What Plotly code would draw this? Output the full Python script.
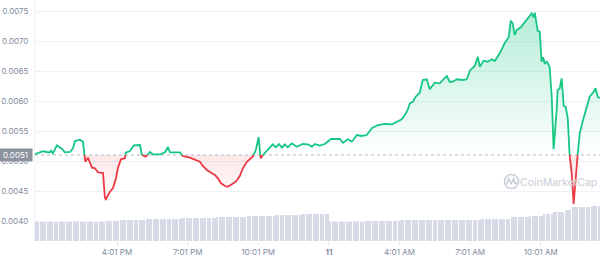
import numpy as np
import pandas as pd
import plotly.graph_objects as go

# ---------------- data ----------------
START = pd.Timestamp("2022-11-10 12:32")
BASE = 0.0051  # opening price (reference line)

# hours since window start
price_hours = [
    0.00, 0.21, 0.34, 0.51, 0.64, 0.68, 0.76, 0.93, 1.06, 1.15, 1.27, 1.49, 1.61, 1.70, 1.91, 2.04,
    2.10, 2.14, 2.25, 2.33, 2.42, 2.55, 2.67, 2.89, 2.97, 3.01, 3.06, 3.18, 3.31, 3.44, 3.52, 3.65,
    3.82, 3.86, 4.03, 4.20, 4.46, 4.54, 4.71, 4.88, 5.01, 5.31, 5.52, 5.65, 5.73, 6.16, 6.28, 6.58,
    6.79, 7.00, 7.13, 7.30, 7.51, 7.64, 7.77, 7.90, 8.07, 8.19, 8.36, 8.53, 8.70, 8.83, 9.00, 9.13,
    9.25, 9.38, 9.50, 9.55, 9.59, 9.68, 9.89, 10.10, 10.23, 10.36, 10.49, 10.61, 10.74, 10.91, 11.12,
    11.25, 11.38, 11.59, 11.76, 11.89, 12.10, 12.31, 12.57, 12.95, 13.08, 13.29, 13.46, 13.67, 13.88,
    14.09, 14.31, 14.56, 14.86, 15.16, 15.41, 15.58, 15.71, 15.83, 15.92, 16.05, 16.17, 16.34, 16.47,
    16.64, 16.77, 16.98, 17.19, 17.49, 17.62, 17.74, 17.92, 18.17, 18.34, 18.47, 18.68, 18.81, 18.89,
    19.06, 19.23, 19.40, 19.53, 19.74, 19.95, 20.12, 20.21, 20.29, 20.38, 20.46, 20.63, 20.80, 21.01,
    21.10, 21.18, 21.23, 21.35, 21.44, 21.52, 21.58, 21.65, 21.74, 21.86, 21.95, 22.03, 22.16, 22.20,
    22.29, 22.37, 22.46, 22.54, 22.63, 22.71, 22.80, 22.88, 22.97, 23.05, 23.14, 23.26, 23.39, 23.56,
    23.73, 23.81, 23.90, 23.99,
]
price_values = [
    0.005112, 0.005145, 0.005162, 0.005150, 0.005145, 0.005172, 0.005128, 0.005262, 0.005228, 0.005200,
    0.005145, 0.005150, 0.005212, 0.005333, 0.005355, 0.005322, 0.005100, 0.004988, 0.005055, 0.004988,
    0.004888, 0.004878, 0.004812, 0.004800, 0.004383, 0.004362, 0.004395, 0.004488, 0.004545, 0.004712,
    0.004878, 0.005028, 0.005045, 0.005138, 0.005167, 0.005262, 0.005267, 0.005100, 0.005072, 0.005150,
    0.005112, 0.005112, 0.005145, 0.005233, 0.005145, 0.005145, 0.005083, 0.005055, 0.005017, 0.004988,
    0.004917, 0.004850, 0.004795, 0.004767, 0.004712, 0.004628, 0.004583, 0.004572, 0.004612, 0.004655,
    0.004750, 0.004878, 0.004988, 0.005028, 0.005072, 0.005183, 0.005395, 0.005155, 0.005045, 0.005100,
    0.005183, 0.005278, 0.005228, 0.005283, 0.005222, 0.005278, 0.005228, 0.005295, 0.005238, 0.005267,
    0.005283, 0.005278, 0.005238, 0.005283, 0.005258, 0.005283, 0.005367, 0.005367, 0.005305, 0.005362,
    0.005322, 0.005433, 0.005417, 0.005433, 0.005545, 0.005600, 0.005617, 0.005612, 0.005655, 0.005695,
    0.005767, 0.005850, 0.005962, 0.005988, 0.006072, 0.006138, 0.006350, 0.006362, 0.006195, 0.006305,
    0.006295, 0.006417, 0.006317, 0.006322, 0.006362, 0.006350, 0.006362, 0.006505, 0.006583, 0.006738,
    0.006572, 0.006672, 0.006655, 0.006695, 0.006667, 0.006795, 0.006962, 0.007062, 0.007338, 0.007295,
    0.007100, 0.007183, 0.007228, 0.007322, 0.007417, 0.007462, 0.007395, 0.007472, 0.007172, 0.007155,
    0.006655, 0.006728, 0.006628, 0.006655, 0.006572, 0.006072, 0.005195, 0.005850, 0.006183, 0.006212,
    0.006378, 0.005917, 0.005905, 0.005712, 0.005100, 0.004795, 0.004283, 0.004683, 0.005100, 0.005462,
    0.005655, 0.005850, 0.006072, 0.006155, 0.006212, 0.006072, 0.006045,
]

# 24h volume bars (6-minute bars), run-length encoded
vol_levels = [187, 203, 213, 220, 233, 243, 255, 265, 273,
              187, 197, 207, 213, 223, 237, 250, 270, 295, 310, 343, 355]
vol_counts = [30, 6, 11, 15, 15, 13, 12, 11, 12,
              15, 15, 17, 17, 13, 8, 6, 4, 5, 3, 8, 4]
VOL_STEP_MIN = 6

tick_times = ["2022-11-10 16:01", "2022-11-10 19:01", "2022-11-10 22:01", "2022-11-11 01:01",
              "2022-11-11 04:01", "2022-11-11 07:01", "2022-11-11 10:01"]
tick_labels = ["4:01 PM", "7:01 PM", "10:01 PM", "<b>11</b>", "4:01 AM", "7:01 AM", "10:01 AM"]
y_ticks = [0.0040, 0.0045, 0.0050, 0.0055, 0.0060, 0.0065, 0.0070, 0.0075]

# ---------------- styling ----------------
GREEN = "#16c784"
RED = "#ea3943"
FONT = "Inter"
TICK_COLOR = "#808a9d"

# split series at the baseline (insert crossing points)
h = np.array(price_hours, dtype=float)
v = np.array(price_values, dtype=float)
hs, vs = [h[0]], [v[0]]
for i in range(1, len(h)):
    a, b = v[i - 1] - BASE, v[i] - BASE
    if a * b < 0:
        f = a / (a - b)
        hs.append(h[i - 1] + f * (h[i] - h[i - 1]))
        vs.append(BASE)
    hs.append(h[i])
    vs.append(v[i])
hs = np.array(hs)
vs = np.array(vs)
xt = START + pd.to_timedelta(hs, unit="h")

green_line = [y if y >= BASE - 1e-12 else None for y in vs]
red_line = [y if y <= BASE + 1e-12 else None for y in vs]

# volume bars
vol = np.repeat(vol_levels, vol_counts)
vol_x = START + pd.to_timedelta((np.arange(len(vol)) + 0.5) * VOL_STEP_MIN, unit="m")

fig = go.Figure()

fig.add_trace(go.Bar(x=vol_x, y=vol, yaxis="y2", marker=dict(color="#d6dbe7", line=dict(width=0)),
                     width=VOL_STEP_MIN * 60000 * 0.6, hoverinfo="skip", showlegend=False))

# green fill
fig.add_trace(go.Scatter(x=xt, y=[BASE] * len(xt), mode="lines", line=dict(width=0),
                         hoverinfo="skip", showlegend=False))
fig.add_trace(go.Scatter(x=xt, y=np.maximum(vs, BASE), mode="lines", line=dict(width=0),
                         fill="tonexty",
                         fillgradient=dict(type="vertical",
                                           colorscale=[[0, "rgba(22,199,132,0.0)"],
                                                       [1, "rgba(22,199,132,0.32)"]]),
                         hoverinfo="skip", showlegend=False))
# red fill
fig.add_trace(go.Scatter(x=xt, y=[BASE] * len(xt), mode="lines", line=dict(width=0),
                         hoverinfo="skip", showlegend=False))
fig.add_trace(go.Scatter(x=xt, y=np.minimum(vs, BASE), mode="lines", line=dict(width=0),
                         fill="tonexty",
                         fillgradient=dict(type="vertical",
                                           colorscale=[[0, "rgba(234,57,67,0.0)"],
                                                       [1, "rgba(234,57,67,0.12)"]]),
                         hoverinfo="skip", showlegend=False))

# dotted baseline
fig.add_trace(go.Scatter(x=[START, START + pd.Timedelta(hours=24)], y=[BASE, BASE], mode="lines",
                         line=dict(color="#b3bac7", width=1, dash="dot"),
                         hoverinfo="skip", showlegend=False))

# price lines
fig.add_trace(go.Scatter(x=xt, y=red_line, mode="lines", line=dict(color=RED, width=1.8),
                         connectgaps=False, hoverinfo="skip", showlegend=False))
fig.add_trace(go.Scatter(x=xt, y=green_line, mode="lines", line=dict(color=GREEN, width=1.8),
                         connectgaps=False, hoverinfo="skip", showlegend=False))

# ---- watermark (pixel -> paper helpers) ----
L, R, T, B = 35, 600, 0, 241


def px(x, y):
    return (x - L) / (R - L), (B - y) / (B - T)


cx, cy, r = 511.5, 181.5, 7
x0, y0 = px(cx - r, cy + r)
x1, y1 = px(cx + r, cy - r)
WM = "#c9ced8"
shapes = [dict(type="circle", xref="paper", yref="paper", x0=x0, y0=y0, x1=x1, y1=y1,
               line=dict(color=WM, width=1.6))]
pts = [(506.5, 184.5), (508.7, 178.8), (511.2, 183.6), (513.6, 178.8), (514.8, 183.8), (517, 182.5)]
path = "M " + " L ".join(f"{px(a, b)[0]:.5f},{px(a, b)[1]:.5f}" for a, b in pts)
shapes.append(dict(type="path", xref="paper", yref="paper", path=path,
                   line=dict(color=WM, width=1.6)))

wx, wy = px(558, 182)
annotations = [
    dict(text="CoinMarketCap", xref="paper", yref="paper", x=wx, y=wy, xanchor="center",
         yanchor="middle", showarrow=False, font=dict(family=FONT, size=10.5, color=WM)),
    dict(text="0.0051", xref="paper", yref="y", x=0, y=BASE, xanchor="right", yanchor="middle",
         xshift=-2, showarrow=False, bgcolor="#8d939e", borderpad=1, width=31, height=10,
         font=dict(family=FONT, size=8, color="white")),
]

fig.update_layout(
    width=600, height=258,
    margin=dict(l=L, r=0, t=0, b=258 - B),
    paper_bgcolor="white", plot_bgcolor="white",
    showlegend=False,
    bargap=0,
    shapes=shapes,
    annotations=annotations,
    font=dict(family=FONT, size=8, color=TICK_COLOR),
    xaxis=dict(
        type="date",
        range=[START, START + pd.Timedelta(hours=24)],
        tickvals=pd.to_datetime(tick_times), ticktext=tick_labels,
        showgrid=False, zeroline=False, showline=False,
        ticks="outside", ticklen=3, tickcolor="#dfe3ea",
        tickfont=dict(family=FONT, size=8, color=TICK_COLOR),
    ),
    yaxis=dict(
        range=[0.0075 - 230 / 60000, 0.0075 + 11 / 60000],
        tickvals=y_ticks, tickformat=".4f",
        showgrid=True, gridcolor="#eff2f5", gridwidth=1,
        zeroline=False, showline=True, linecolor="#eff2f5", linewidth=1,
        ticks="", ticklabelstandoff=4,
        tickfont=dict(family=FONT, size=8, color=TICK_COLOR),
    ),
    yaxis2=dict(overlaying="y", range=[0, 2410], visible=False, showgrid=False),
)

fig.write_html("out.html")
